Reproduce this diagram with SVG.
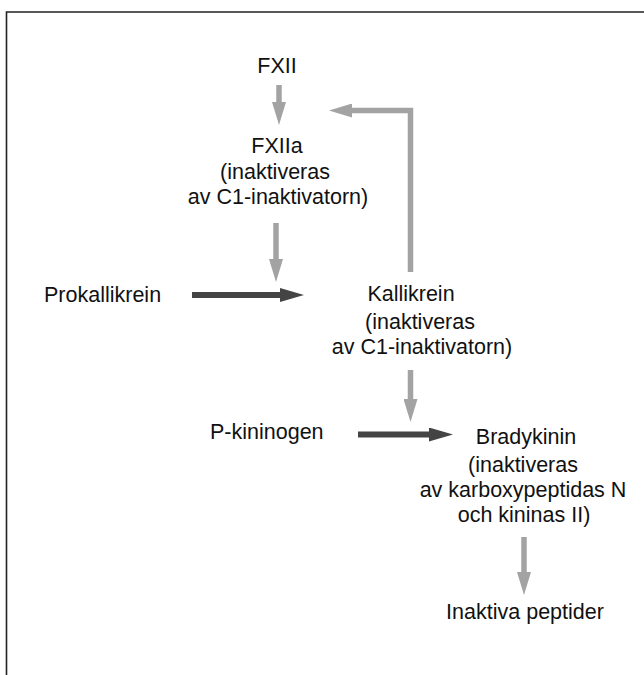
<svg xmlns="http://www.w3.org/2000/svg" width="644" height="675" viewBox="0 0 644 675">
<style>
text{font-family:"Liberation Sans",Arial,sans-serif;font-size:21.5px;fill:#111;text-anchor:middle}
.l{text-anchor:start}
.g{fill:none;stroke:#a3a3a3;stroke-width:5.5;stroke-linejoin:miter}
.d{fill:none;stroke:#444;stroke-width:6}
.frame{fill:none;stroke:#222;stroke-width:1.6}
</style>
<defs>
<marker id="ag" viewBox="0 0 23 14" refX="0" refY="7" markerWidth="23" markerHeight="14" markerUnits="userSpaceOnUse" orient="auto">
<path d="M0,0 L23,7 L0,14 Z" fill="#a3a3a3"/>
</marker>
<marker id="ad" viewBox="0 0 24 14" refX="0" refY="7" markerWidth="24" markerHeight="14" markerUnits="userSpaceOnUse" orient="auto">
<path d="M0,0 L24,7 L0,14 Z" fill="#444"/>
</marker>
</defs>
<path class="frame" d="M6.5,675 V12 H644"/>
<g id="connectors">
<path class="g" d="M279,85 V102" marker-end="url(#ag)"/>
<path class="g" d="M410.5,272 V110.5 H352" marker-end="url(#ag)"/>
<path class="g" d="M276,223 V259" marker-end="url(#ag)"/>
<path class="g" d="M410.5,370 V399" marker-end="url(#ag)"/>
<path class="g" d="M524,537 V572" marker-end="url(#ag)"/>
<path class="d" d="M192,295 H280" marker-end="url(#ad)"/>
<path class="d" d="M358,434.5 H429" marker-end="url(#ad)"/>
</g>
<g id="fxii"><text x="277" y="73">FXII</text></g>
<g id="fxiia">
<text x="277" y="153">FXIIa</text>
<text x="275" y="179">(inaktiveras</text>
<text x="278" y="204">av C1-inaktivatorn)</text>
</g>
<g id="prokallikrein"><text class="l" x="44" y="302">Prokallikrein</text></g>
<g id="kallikrein">
<text x="411" y="301">Kallikrein</text>
<text x="420" y="329">(inaktiveras</text>
<text x="422" y="354">av C1-inaktivatorn)</text>
</g>
<g id="pkininogen"><text class="l" x="210" y="439">P-kininogen</text></g>
<g id="bradykinin">
<text x="526" y="444">Bradykinin</text>
<text x="523" y="472">(inaktiveras</text>
<text x="523" y="497">av karboxypeptidas N</text>
<text x="524" y="522">och kininas II)</text>
</g>
<g id="inaktiva"><text x="525" y="619">Inaktiva peptider</text></g>
</svg>
